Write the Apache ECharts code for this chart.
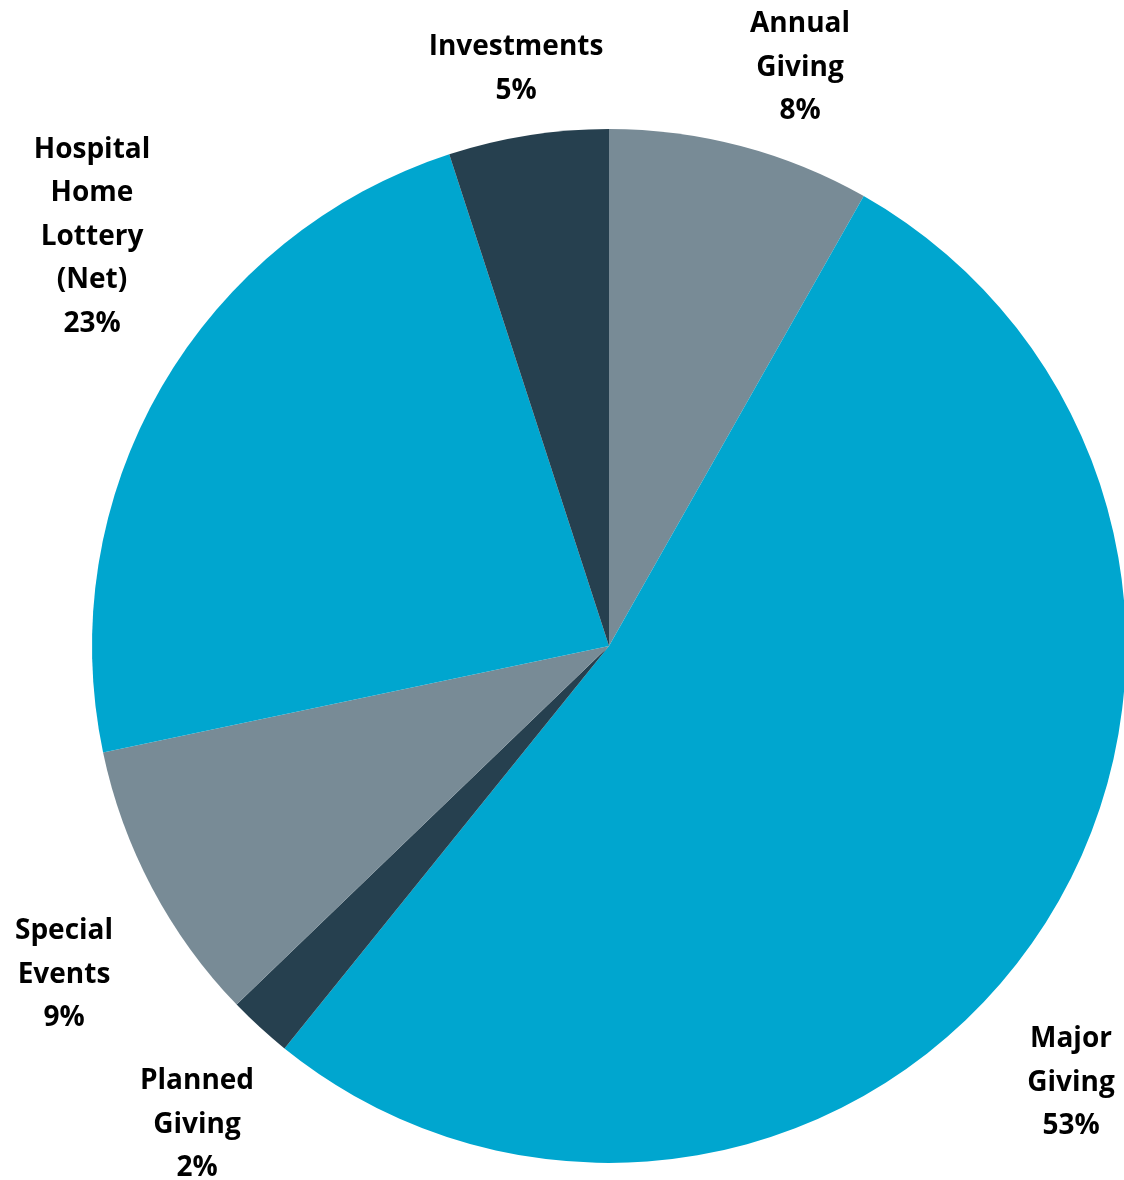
<!DOCTYPE html>
<html>
<head>
<meta charset="utf-8">
<script src="https://cdn.jsdelivr.net/npm/echarts@6/dist/echarts.min.js"></script>
<style>html,body{margin:0;padding:0;background:#fff;}#c{width:1124px;height:1180px;}</style>
</head>
<body>
<div id="c"></div>
<script>
const categories = ['Annual\nGiving', 'Major\nGiving', 'Planned\nGiving', 'Special\nEvents', 'Hospital\nHome\nLottery\n(Net)', 'Investments'];
const values = [8.2, 52.6, 2.0, 8.9, 23.3, 5.0];
const colors = ['#788b96', '#00a6cf', '#26404f', '#788b96', '#00a6cf', '#26404f'];
// label anchor points (text block centres) for each slice label
const labelAnchors = [[800, 68], [1071, 1083], [197, 1125], [64, 975], [92, 237], [516, 69]];

const chart = echarts.init(document.getElementById('c'), null, {renderer: 'canvas'});
chart.setOption({
  animation: false,
  series: [{
    type: 'pie',
    center: [609, 646],
    radius: 517,
    startAngle: 90,
    clockwise: true,
    avoidLabelOverlap: false,
    data: categories.map((n, i) => ({name: n, value: values[i], itemStyle: {color: colors[i]}})),
    label: {
      show: true,
      position: 'outside',
      formatter: p => p.name + '\n' + Math.round(p.value) + '%',
      fontFamily: 'Open Sans',
      fontWeight: 'bold',
      fontSize: 28,
      lineHeight: 43.5,
      color: '#000',
      align: 'center'
    },
    labelLine: {show: false},
    labelLayout: function (params) {
      const a = labelAnchors[params.dataIndex];
      return {x: a[0], y: a[1], align: 'center', verticalAlign: 'middle'};
    },
    emphasis: {disabled: true}
  }]
});
</script>
</body>
</html>
